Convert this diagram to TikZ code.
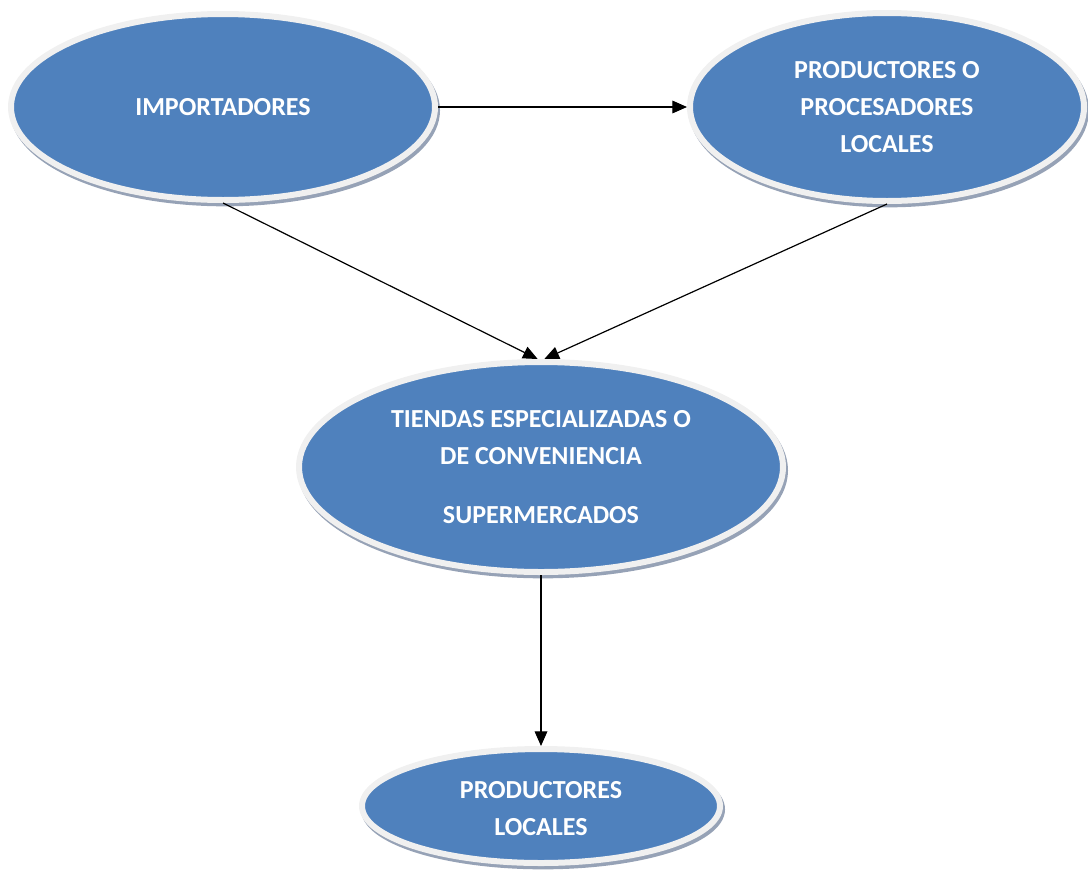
\documentclass[tikz,border=0pt]{standalone}
\usepackage{fontspec}
\setmainfont{Carlito}
\usetikzlibrary{shapes.geometric,shadows,arrows.meta}
\definecolor{ovalblue}{RGB}{79,129,189}
\definecolor{ovalrim}{RGB}{240,240,240}
\definecolor{ovalshade}{RGB}{150,162,182}
\begin{document}
\begin{tikzpicture}[x=0.75pt,y=0.75pt,yscale=-1,xscale=1,
  oval/.style={ellipse,inner sep=0pt,fill=ovalblue,draw=ovalrim,line width=4.5pt,
    text=white,align=center,font=\fontsize{19.5}{28}\selectfont\bfseries,
    drop shadow={shadow xshift=1.5pt,shadow yshift=-2.5pt,opacity=1,fill=ovalshade,draw=ovalshade,line width=4.5pt}},
  link/.style={line width=0.9pt,-{Triangle[length=11pt,width=9.5pt]}}]
\useasboundingbox (0,0) rectangle (1088,871);

% Ovals
\node [oval,minimum width=318pt,minimum height=139.5pt] (importadores) at (223,107) {IMPORTADORES};
\node [oval,minimum width=295.5pt,minimum height=141pt] (procesadores) at (887,107) {PRODUCTORES O\\PROCESADORES\\LOCALES};
\node [oval,minimum width=363pt,minimum height=157.5pt] (tiendas) at (541,467) {TIENDAS ESPECIALIZADAS O\\DE CONVENIENCIA\\[16pt]SUPERMERCADOS};
\node [oval,minimum width=268.5pt,minimum height=85.5pt,text height=45pt] (locales) at (541,806) {PRODUCTORES\\LOCALES};

% Arrows
\draw [link] (importadores.east) -- (procesadores.west);
\draw [link] (importadores.south) -- ([xshift=-2.5pt]tiendas.north);
\draw [link] (procesadores.south) -- ([xshift=2.5pt]tiendas.north);
\draw [link] (tiendas.south) -- (locales.north);

\end{tikzpicture}
\end{document}
